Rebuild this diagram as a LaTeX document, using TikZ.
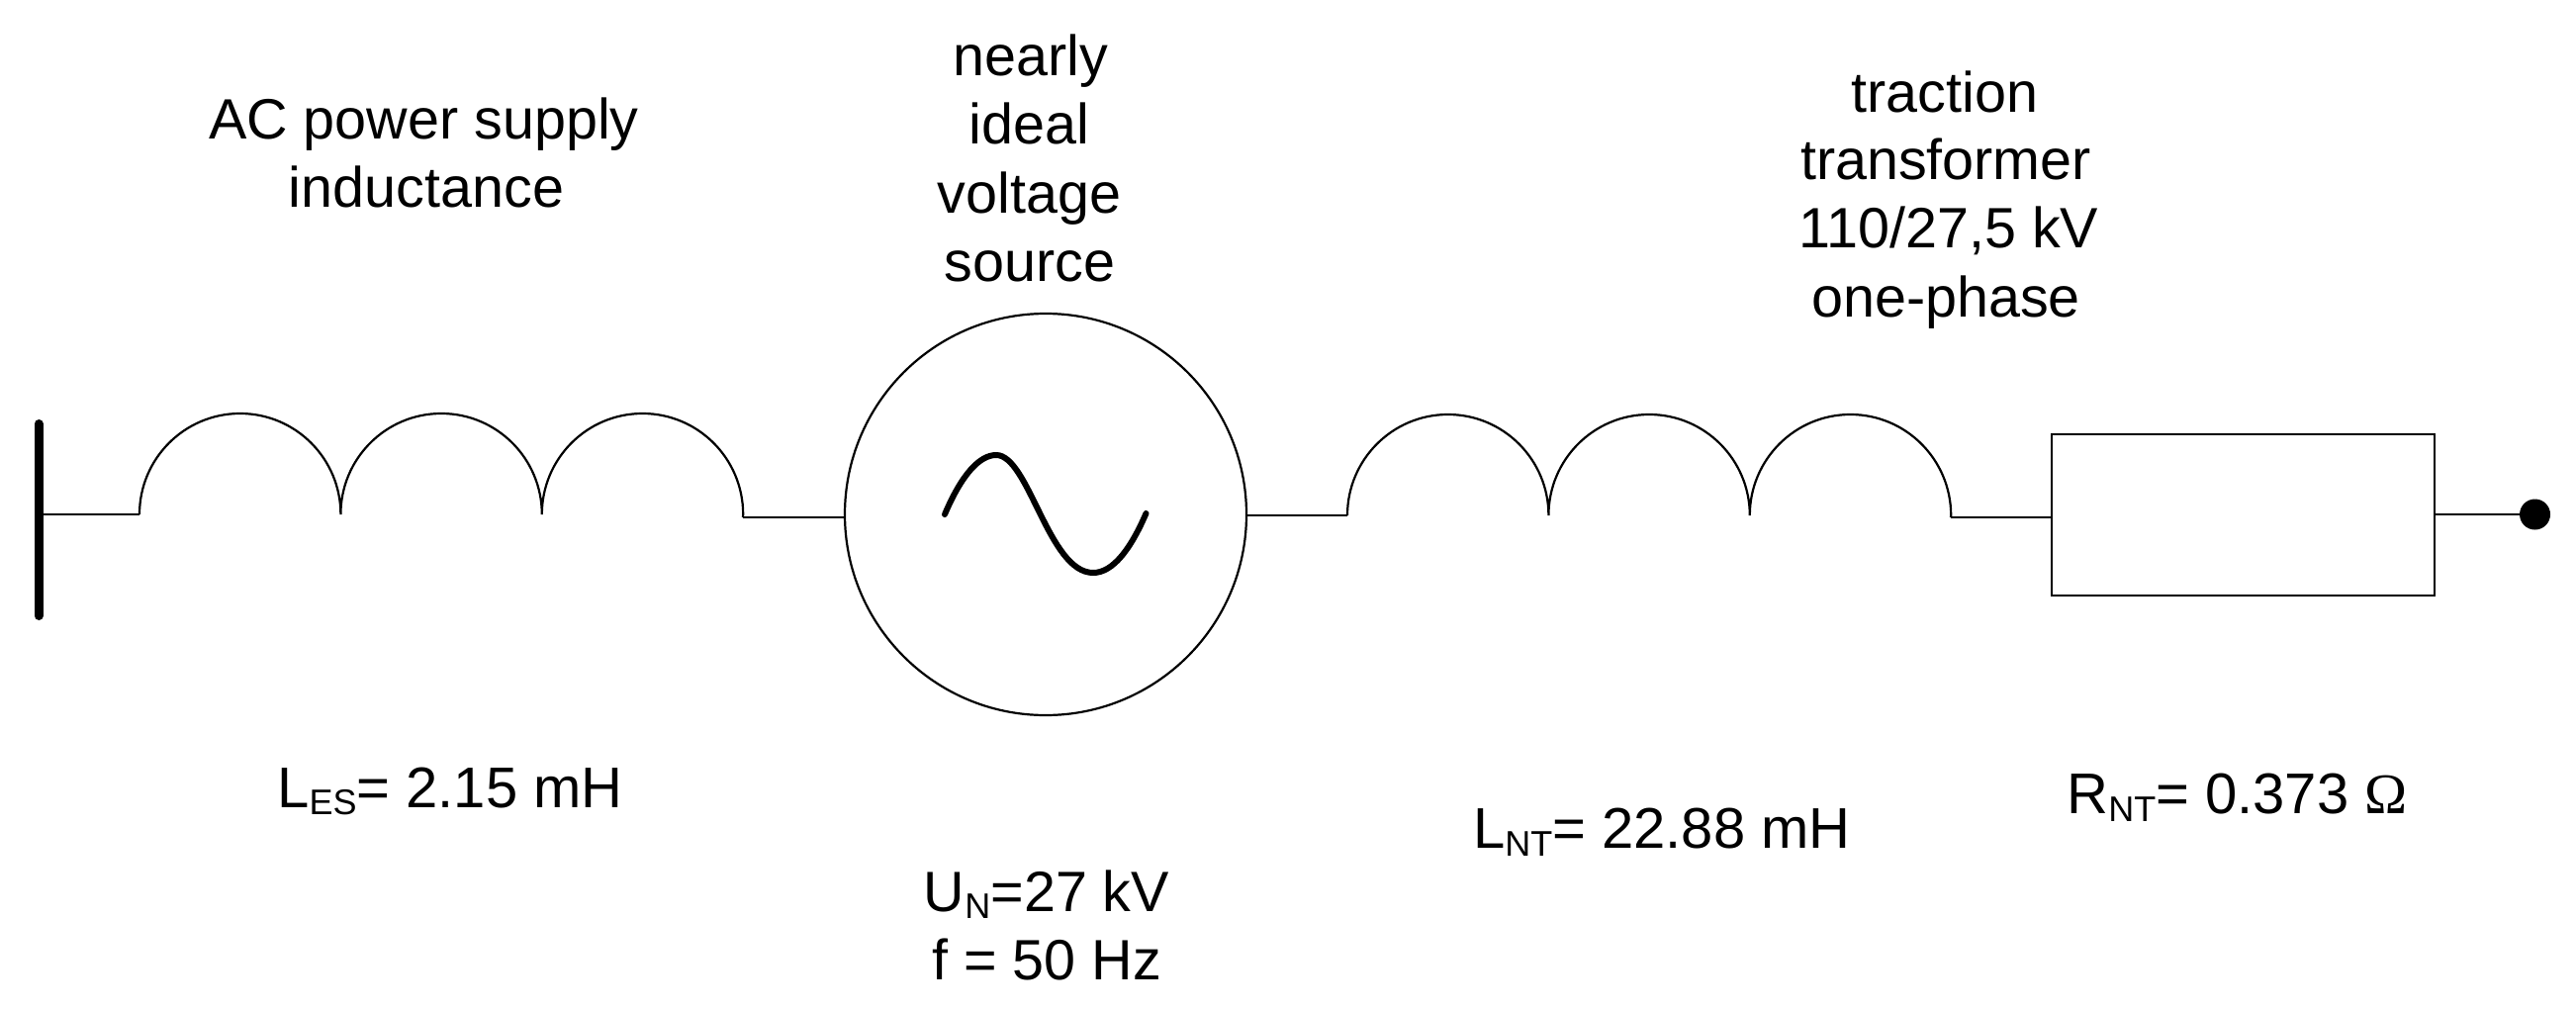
\documentclass[tikz,border=0pt]{standalone}
\usepackage{fontspec}
\setmainfont{Liberation Sans}
\newfontfamily\symfont{Liberation Serif}
\newcommand{\lab}[3]{\node[lbl] (#1) at (#2) {#3};}
\newcommand{\valab}[3]{\node[lbl,vallbl] (#1) at (#2) {#3};}
\newcommand{\sbs}[1]{\raisebox{-0.13em}{\fontsize{36}{36}\selectfont #1}}
\begin{document}
\begin{tikzpicture}[x=1pt,y=-1pt,
  wire/.style={line width=2.2pt,black},
  busbar/.style={line width=9pt,line cap=round,black},
  wave/.style={line width=6pt,line cap=round,black},
  lbl/.style={anchor=base,inner sep=0pt,outer sep=0pt,font=\fontsize{57.5}{66}\selectfont,text=black},
  vallbl/.style={font=\fontsize{58}{66}\selectfont},
  srcnode/.style={circle,draw=black,line width=2.2pt,minimum size=406pt,inner sep=0pt,outer sep=0pt},
  resnode/.style={rectangle,draw=black,line width=2.2pt,minimum width=387pt,minimum height=163pt,inner sep=0pt,outer sep=0pt},
  termnode/.style={circle,fill=black,minimum size=31pt,inner sep=0pt,outer sep=0pt},
  hump/.style={start angle=180,end angle=360,x radius=101.7,y radius=102}]
\useasboundingbox (0,0) rectangle (2604,1020);
\fill[white] (0,0) rectangle (2604,1020);
% nodes
\node[srcnode] (src) at (1057,520) {};
\node[resnode] (res) at (2267.5,520.5) {};
\node[termnode] (term) at (2562.5,520) {};
\coordinate (bartop) at (39,428.5);
\coordinate (barbot) at (39,622.5);
\coordinate (barmid) at (39,520);
\coordinate (la) at (141,520);
\coordinate (lb) at (751,523);
\coordinate (ra) at (1362,521);
\coordinate (rb) at (1972,523);
% bus bar
\draw[busbar] (bartop) -- (barbot);
% wires
\draw[wire] (barmid) -- (la);
\draw[wire] (lb) -- (lb -| src.west);
\draw[wire] (src.east |- ra) -- (ra);
\draw[wire] (rb) -- (rb -| res.west);
\draw[wire] (res.east |- term) -- (term);
% inductors
\draw[wire] (la) arc[hump] arc[hump] arc[hump] -- (lb);
\draw[wire] (ra) arc[hump] arc[hump] arc[hump] -- (rb);
% sine
\draw[wave] (955,520) .. controls (972,480) and (990,460) .. (1007,460)
  .. controls (1040,460) and (1060,579) .. (1105,579)
  .. controls (1125,579) and (1143,555) .. (1158.5,519);
% labels
\lab{t1}{428.5,140}{AC power supply}
\lab{t2}{431,209}{inductance}
\lab{t3}{1042,76}{nearly}
\lab{t4}{1040.5,145}{ideal}
\lab{t5}{1040.5,215}{voltage}
\lab{t6}{1041,284}{source}
\lab{t7}{1966,113}{traction}
\lab{t8}{1967,181}{transformer}
\lab{t9}{1970,250}{110/27,5 kV}
\lab{t10}{1967,320}{one-phase}
\valab{t11}{455,816}{L\sbs{ES}= 2.15 mH}
\lab{t12}{1058,921.5}{U\sbs{N}=27 kV}
\lab{t13}{1058,990}{f = 50 Hz}
\valab{t14}{1680,857.5}{L\sbs{NT}= 22.88 mH}
\valab{t15}{2261.5,822.5}{R\sbs{NT}= 0.373 {\symfont Ω}}
\end{tikzpicture}
\end{document}
